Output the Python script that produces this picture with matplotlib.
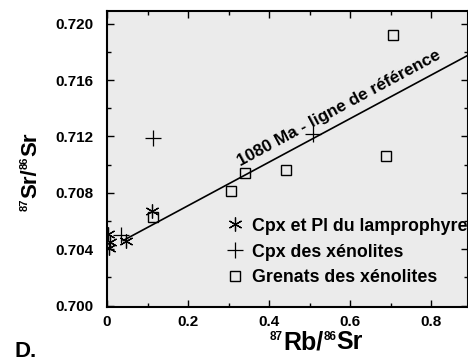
import matplotlib
matplotlib.use("Agg")
import matplotlib.pyplot as plt
from matplotlib.transforms import IdentityTransform
from matplotlib.ticker import MultipleLocator, FormatStrFormatter

plt.rcParams["font.family"] = ["Liberation Sans", "DejaVu Sans"]
plt.rcParams["font.weight"] = "bold"

# Cpx et Pl du lamprophyre (asterisks)
lamp_x = [0.002, 0.007, 0.005, 0.047, 0.111]
lamp_y = [0.7051, 0.7045, 0.7041, 0.7046, 0.7067]

# Cpx des xenolites (plus)
cpx_x = [0.035, 0.114, 0.509]
cpx_y = [0.7050, 0.7119, 0.7122]

# Grenats des xenolites (squares)
gren_x = [0.114, 0.306, 0.339, 0.442, 0.689, 0.705]
gren_y = [0.7063, 0.7081, 0.7094, 0.7096, 0.7106, 0.7192]

# 1080 Ma reference line
ref_x = [0.04, 0.89]
ref_intercept = 0.7040
ref_slope = 0.01546

W, H = 468, 364


def iso_label(fig, parts, x0, y0, big, small, vertical=False):
    """Draw a label like 87Rb/86Sr with small raised isotope numbers.
    parts: list of (text, is_superscript). x0, y0: start of baseline in pixels
    from the top-left corner."""
    r = fig.canvas.get_renderer()
    probe = fig.text(0, 0, "S", fontsize=big, fontweight="bold", transform=IdentityTransform())
    cap = probe.get_window_extent(r).height * 0.72
    probe.remove()
    probe = fig.text(0, 0, "8", fontsize=small, fontweight="bold", transform=IdentityTransform())
    dig = probe.get_window_extent(r).height * 0.72
    probe.remove()
    raise_by = cap - dig
    pos = 0.0
    for s, sup in parts:
        size = small if sup else big
        off = raise_by if sup else 0.0
        if vertical:
            xy = (x0 - off, (H - y0) + pos)
            rot = 90
        else:
            xy = (x0 + pos, (H - y0) + off)
            rot = 0
        t = fig.text(xy[0], xy[1], s, fontsize=size, fontweight="bold", ha="left",
                     va="baseline", rotation=rot, rotation_mode="anchor",
                     transform=IdentityTransform())
        ext = t.get_window_extent(r)
        pos += ext.height if vertical else ext.width


fig = plt.figure(figsize=(4.68, 3.64), dpi=100)
ax = fig.add_axes([107 / W, 1 - 307 / H, 1 - 107 / W, (307 - 11) / H])
ax.set_facecolor("#ebebeb")

ref_y = [ref_intercept + ref_slope * x for x in ref_x]
ax.plot(ref_x, ref_y, color="black", lw=1.2, zorder=2)

ax.plot(lamp_x, lamp_y, ls="none", marker=(6, 2, 0), ms=10, mec="black", mew=0.9,
        label="Cpx et Pl du lamprophyre", zorder=3)
ax.plot(cpx_x, cpx_y, ls="none", marker="+", ms=11, mec="black", mew=0.9,
        label="Cpx des xénolites", zorder=3)
ax.plot(gren_x, gren_y, ls="none", marker="s", ms=7, mfc="none", mec="black", mew=1.0,
        label="Grenats des xénolites", zorder=3)

ax.text(0.572, 0.7140, "1080 Ma - ligne de référence", fontsize=12.3, fontweight="bold",
        rotation=28.3, rotation_mode="anchor", ha="center", va="center")

ax.set_xlim(0, 0.89)
ax.set_ylim(0.6999, 0.7209)
ax.xaxis.set_major_locator(MultipleLocator(0.2))
ax.xaxis.set_minor_locator(MultipleLocator(0.1))
ax.yaxis.set_major_locator(MultipleLocator(0.004))
ax.yaxis.set_minor_locator(MultipleLocator(0.002))
ax.xaxis.set_major_formatter(FormatStrFormatter("%g"))
ax.yaxis.set_major_formatter(FormatStrFormatter("%.3f"))
ax.tick_params(which="both", direction="in", top=True, right=True, width=1.0)
ax.tick_params(which="major", length=5, labelsize=11)
ax.tick_params(which="minor", length=3)
ax.tick_params(axis="x", pad=6)
ax.tick_params(axis="y", pad=10)
for lab in ax.get_xticklabels() + ax.get_yticklabels():
    lab.set_fontweight("bold")
for s in ax.spines.values():
    s.set_linewidth(1.5)

ax.legend(loc="upper left", bbox_to_anchor=(0.31, 0.326), frameon=False,
          handlelength=1.0, handletextpad=0.45, labelspacing=0.5,
          borderaxespad=0, prop={"weight": "bold", "size": 12.8})

# axis titles with small isotope numbers
iso_label(fig, [("87", True), ("Rb/", False), ("86", True), ("Sr", False)],
          270, 349, 18, 8.5)
iso_label(fig, [("87", True), ("Sr/", False), ("86", True), ("Sr", False)],
          36, 211, 16, 8, vertical=True)

fig.text(15 / W, 1 - 357 / H, "D.", fontsize=16, fontweight="bold")

fig.savefig("out.png", dpi=100)
